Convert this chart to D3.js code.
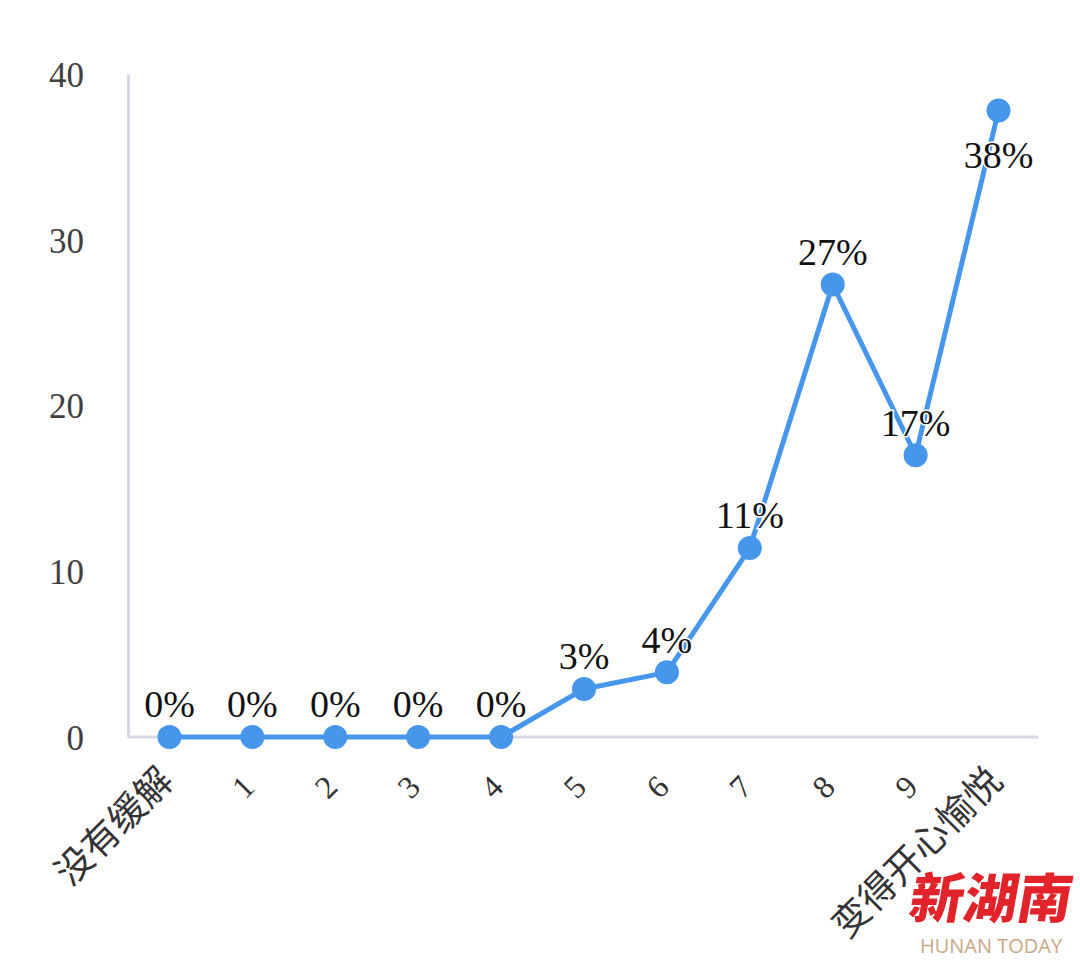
<!DOCTYPE html>
<html><head><meta charset="utf-8">
<script src="https://cdn.jsdelivr.net/npm/d3@7"></script>
<style>body{margin:0;background:#fff;}svg{display:block;}</style>
</head><body>
<svg id="c" width="1080" height="964"></svg>
<script>
const categories = ["没有缓解","1","2","3","4","5","6","7","8","9","变得开心愉悦"];
const values = [0,0,0,0,0,2.9,3.9,11.4,27.3,17.0,37.8];
const labels = ["0%","0%","0%","0%","0%","3%","4%","11%","27%","17%","38%"];
const yTicks = [0,10,20,30,40];

const svg = d3.select("#c");
const m = {left:128, right:1040, top:74, bottom:737};
const x = d3.scaleBand().domain(categories).range([m.left, m.right]);
const y = d3.scaleLinear().domain([0,40]).range([m.bottom, m.top]);
const axisColor = "#d3dae6";
const serif = "'Liberation Serif','Times New Roman',serif";

// y axis
const ya = svg.append("g").attr("transform",`translate(${m.left},0)`)
  .call(d3.axisLeft(y).tickValues(yTicks).tickSize(0).tickPadding(44));
ya.select(".domain").attr("stroke",axisColor).attr("stroke-width",3);
ya.selectAll("text").attr("font-family",serif).attr("font-size",35).attr("fill","#404040").attr("dy","0.35em");

// x axis
const xa = svg.append("g").attr("transform",`translate(0,${m.bottom})`)
  .call(d3.axisBottom(x).tickSize(0).tickPadding(0));
xa.select(".domain").attr("stroke",axisColor).attr("stroke-width",3).attr("d",`M${m.left},0H${m.right-2}`);
xa.selectAll("text")
  .attr("text-anchor","end")
  .attr("dy",null).attr("y",0)
  .attr("fill","#333")
  .each(function(d){
    const cjk = d.length>1;
    d3.select(this)
      .attr("font-family", cjk ? "'Noto Sans CJK SC',sans-serif" : serif)
      .attr("font-size", cjk ? 37 : 32)
      .attr("transform", cjk ? "translate(6,46) rotate(-45)" : "translate(4,52) rotate(-45)");
  });

// line
const cx = d => x(d) + x.bandwidth()/2;
const data = categories.map((c,i)=>({c, v:values[i], l:labels[i]}));
svg.append("path").datum(data)
  .attr("fill","none").attr("stroke","#4696ec").attr("stroke-width",5).attr("stroke-linejoin","round")
  .attr("d", d3.line().x(d=>cx(d.c)).y(d=>y(d.v)));
svg.selectAll("circle.pt").data(data).join("circle")
  .attr("cx",d=>cx(d.c)).attr("cy",d=>y(d.v)).attr("r",12).attr("fill","#4696ec");

// labels
svg.selectAll("text.lbl").data(data).join("text")
  .attr("class","lbl")
  .attr("x",d=>cx(d.c))
  .attr("y",d=> y(d.v)-33 < m.top+20 ? y(d.v)+44 : y(d.v)-33)
  .attr("dy","0.35em")
  .attr("text-anchor","middle")
  .attr("font-family",serif).attr("font-size",38).attr("fill","#111")
  .attr("stroke","#fff").attr("stroke-width",3).attr("paint-order","stroke")
  .text(d=>d.l);

// watermark
svg.append("text").attr("transform","translate(988,918) skewX(-10)").attr("text-anchor","middle")
  .attr("font-family","'Noto Sans CJK SC',sans-serif").attr("font-weight",900)
  .attr("font-size",54).attr("fill","#e2232a")
  .text("新湖南");
svg.append("text").attr("x",991).attr("y",953).attr("text-anchor","middle")
  .attr("font-family","'Open Sans',sans-serif").attr("font-size",20).attr("fill","#c9a886")
  .text("HUNAN TODAY");
</script>
</body></html>
